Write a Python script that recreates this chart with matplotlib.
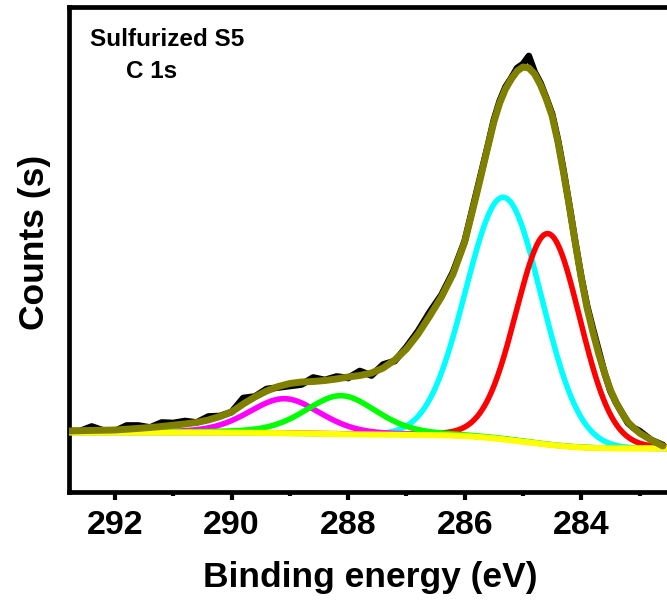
import numpy as np
import matplotlib
matplotlib.use("Agg")
import matplotlib.pyplot as plt
from matplotlib.ticker import MultipleLocator

plt.rcParams["font.family"] = ["Liberation Sans", "DejaVu Sans"]
plt.rcParams["font.weight"] = "bold"

# Binding energies (eV) of the measured spectrum and the smoothed envelope
energy = [292.8, 292.6, 292.4, 292.2, 292.0, 291.8, 291.6, 291.4, 291.2, 291.0,
          290.8, 290.6, 290.4, 290.2, 290.0, 289.8, 289.6, 289.4, 289.2, 289.0,
          288.8, 288.6, 288.4, 288.2, 288.0, 287.8, 287.6, 287.4, 287.2, 287.0,
          286.8, 286.6, 286.4, 286.2, 286.0, 285.8, 285.6, 285.5, 285.4, 285.3,
          285.2, 285.1, 285.0, 284.9, 284.8, 284.7, 284.6, 284.5, 284.4, 284.3,
          284.2, 284.1, 284.0, 283.9, 283.8, 283.7, 283.6, 283.5, 283.4, 283.3,
          283.2, 283.1, 283.0, 282.8, 282.6]

# Raw counts (arbitrary units)
raw_counts = [61, 61, 65.5, 61.5, 61, 66.5, 66.5, 64.5, 69.5, 69,
              71, 69.5, 75.5, 76, 80, 94, 95.5, 103, 104.5, 106,
              107.5, 114.5, 112, 115.5, 114, 121, 116.5, 127.5, 131, 145,
              161, 180, 197, 220, 251, 299, 347, 372, 391, 405,
              414, 424, 428, 436, 420, 409, 394, 378, 352, 320,
              285, 249, 215, 186, 163, 141, 119, 101, 89, 79,
              69, 64, 61, 52, 47]

# Envelope of the fitted spectrum
envelope = [61, 61.3, 61.6, 61.8, 62, 62.8, 63.6, 64.5, 65.5, 66.8,
            68, 69.5, 72, 75.5, 80, 88, 95, 101, 105.5, 108.5,
            110, 110.5, 111.5, 113, 115, 116.5, 119, 124, 132, 143,
            158, 176, 195, 218, 250, 297, 346, 370, 389, 403,
            413, 421, 425, 424, 418, 407, 393, 376, 350, 318,
            284, 248, 214, 184, 160, 138, 119, 102, 89, 79,
            70, 64, 59, 52, 46]

# Fitted C 1s components: centre (eV), height, FWHM (eV), Lorentzian fraction
comp_names = ["O-C=O", "C=O", "C-O", "C-C"]
comp_center = [289.09, 288.12, 285.33, 284.57]
comp_height = [34.5, 38.5, 242.0, 211.0]
comp_fwhm = [1.45, 1.45, 1.53, 1.30]
comp_eta = [0.25, 0.30, 0.0, 0.06]
comp_color = ["#FF00FF", "#00FF00", "#00FFFF", "#FF0000"]

# Shirley background end levels (high / low binding-energy side)
bg_high = 59.5
bg_low = 43.5

x_lo, x_hi = 282.3, 292.79


def pseudo_voigt(e, c, h, w, eta):
    u = (e - c) / w
    return h * ((1 - eta) * np.exp(-4 * np.log(2) * u ** 2) + eta / (1 + 4 * u ** 2))


grid = np.linspace(x_lo, x_hi, 1200)
peaks = [pseudo_voigt(grid, c, h, w, k)
         for c, h, w, k in zip(comp_center, comp_height, comp_fwhm, comp_eta)]
total = np.sum(peaks, axis=0)
cum = np.concatenate([[0.0], np.cumsum(0.5 * (total[1:] + total[:-1]) * np.diff(grid))])
background = bg_low + (bg_high - bg_low) * cum / cum[-1]

W, H = 667, 609
fig = plt.figure(figsize=(W / 100, H / 100), dpi=100)
ax = fig.add_axes([69 / W, 1 - 492 / H, 1.02 - 69 / W, (492 - 7) / H])

ax.plot(energy, raw_counts, color="black", lw=4.8, zorder=1,
        solid_joinstyle="round", solid_capstyle="round")
# C-C and C-O drawn first so the weaker oxygen components stay visible near the baseline
for p, col, z in zip(peaks, comp_color, [4, 5, 2, 3]):
    ax.plot(grid, background + p, color=col, lw=4.0, zorder=z)
ax.plot(grid, background, color="#FFFF00", lw=4.4, zorder=6)
ax.plot(energy, envelope, color="#808000", lw=5.0, zorder=7,
        solid_joinstyle="round", solid_capstyle="round")

ax.set_xlim(x_hi, x_lo)
ax.set_ylim(0, 485)
ax.xaxis.set_major_locator(MultipleLocator(2))
ax.xaxis.set_minor_locator(MultipleLocator(1))
ax.set_yticks([])
ax.tick_params(axis="x", which="major", direction="out", length=6, width=3,
               labelsize=24.5, pad=7)
ax.tick_params(axis="x", which="minor", direction="out", length=3, width=3)
for lab in ax.get_xticklabels():
    lab.set_fontweight("bold")
for s in ax.spines.values():
    s.set_linewidth(3.4)

fig.text(370 / W, 1 - 578 / H, "Binding energy (eV)", ha="center", va="center",
         fontsize=25.5, fontweight="bold")
fig.text(35 / W, 1 - 242 / H, "Counts (s)", ha="center", va="center",
         rotation=90, fontsize=25.5, fontweight="bold")
fig.text(90 / W, 1 - 40 / H, "Sulfurized S5", ha="left", va="center",
         fontsize=17.5, fontweight="bold")
fig.text(126 / W, 1 - 71 / H, "C 1s", ha="left", va="center",
         fontsize=17.5, fontweight="bold")

fig.savefig("out.png", dpi=100)
